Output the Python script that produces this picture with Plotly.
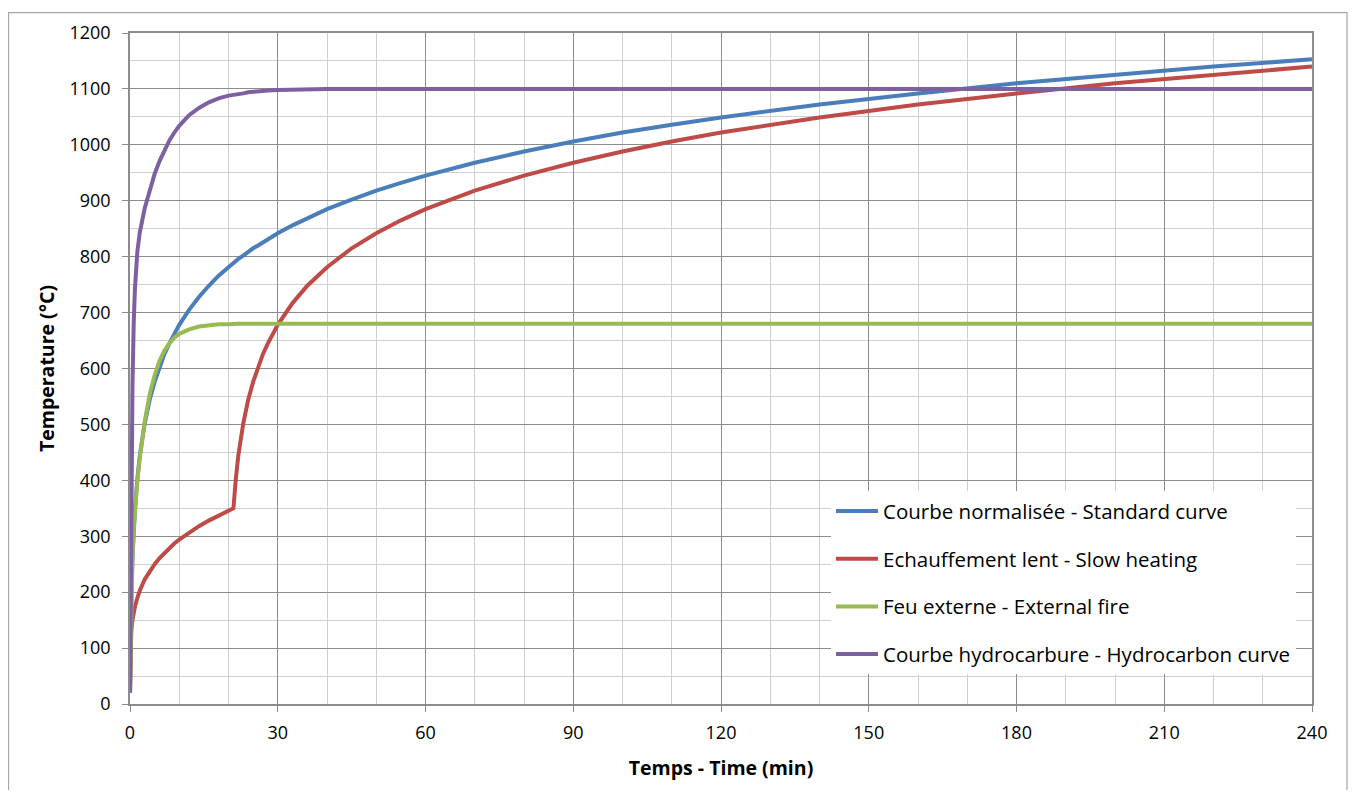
import plotly.graph_objects as go

time_min = [0, 0.1, 0.25, 0.5, 0.75, 1, 1.5, 2, 3, 4, 5, 6, 7, 8, 9, 10, 12, 14, 16, 18, 20, 21, 21.5,
            22, 23, 24, 25, 26, 27, 28, 30, 33, 36, 40, 45, 50, 55, 60, 70, 80, 90, 100, 110, 120,
            140, 160, 180, 200, 220, 240]

standard = [20, 108, 185, 261, 312, 349, 404, 445, 502, 544, 576, 603, 626, 645, 663, 678, 705, 728,
            748, 766, 781, 789, 792, 796, 802, 809, 815, 820, 826, 832, 842, 856, 869, 885, 902, 918,
            932, 945, 968, 988, 1006, 1022, 1036, 1049, 1072, 1092, 1110, 1125, 1140, 1153]

slow = [20, 107, 129, 150, 163, 174, 190, 203, 223, 238, 250, 261, 270, 279, 287, 294, 307, 318,
        328, 337, 346, 350, 404, 445, 502, 544, 576, 603, 626, 645, 678, 717, 748, 781, 815, 842,
        865, 885, 918, 945, 968, 988, 1006, 1022, 1049, 1072, 1092, 1110, 1125, 1140]

external = [20, 100, 182, 263, 311, 346, 399, 441, 506, 554, 588, 614, 632, 645, 655, 662, 670, 675,
            677, 679, 679, 680, 680, 680, 680, 680, 680, 680, 680, 680, 680, 680, 680, 680, 680, 680,
            680, 680, 680, 680, 680, 680, 680, 680, 680, 680, 680, 680, 680, 680]

hydrocarbon = [20, 187, 373, 568, 679, 743, 810, 844, 887, 920, 948, 971, 991, 1008, 1022, 1034, 1053,
               1066, 1076, 1083, 1088, 1089, 1090, 1091, 1092, 1094, 1095, 1095, 1096, 1097, 1098, 1099,
               1099, 1100, 1100, 1100, 1100, 1100, 1100, 1100, 1100, 1100, 1100, 1100, 1100, 1100,
               1100, 1100, 1100, 1100]

series_names = ["Courbe normalisée - Standard curve", "Echauffement lent - Slow heating",
                "Feu externe - External fire", "Courbe hydrocarbure - Hydrocarbon curve"]
series_values = [standard, slow, external, hydrocarbon]
series_colors = ["#4A7EBB", "#BE4B48", "#98B954", "#7D60A0"]

x_ticks = [0, 30, 60, 90, 120, 150, 180, 210, 240]
y_ticks = list(range(0, 1201, 100))

FONT = "Open Sans"

fig = go.Figure()
for i, (name, vals, col) in enumerate(zip(series_names, series_values, series_colors)):
    fig.add_trace(go.Scatter(x=time_min, y=vals, mode="lines", name=name,
                             legendgroup=f"g{i}",
                             line=dict(color=col, width=4)))

# page is offset by the 8px body margin: figure coords = page coords - 8
OFF = 8
W, H = 1340, 782
L, T = 130 - OFF, 29 - OFF
pw, ph = 1182, 675
R = W - L - pw
B = H - T - ph

def px_x(p):
    return (p - OFF - L) / pw

def px_y(p):
    return (H - B - (p - OFF)) / ph

GRID_MAJ = "#8C8C8C"
GRID_MIN = "#CFCFCF"

fig.update_layout(
    width=W, height=H,
    margin=dict(l=L, r=R, t=T, b=B),
    paper_bgcolor="white", plot_bgcolor="white",
    font=dict(family=FONT, color="#000000", size=18),
    showlegend=True,
    legend=dict(
        x=px_x(831), y=px_y(490), xanchor="left", yanchor="top",
        bgcolor="white", borderwidth=0,
        font=dict(family=FONT, size=20.5, color="#000000"),
        tracegroupgap=18, traceorder="grouped",
        itemwidth=42,
    ),
    xaxis=dict(
        range=[0, 240], tickvals=x_ticks, ticktext=[str(v) for v in x_ticks],
        showgrid=True, gridcolor=GRID_MAJ, gridwidth=1,
        minor=dict(dtick=10, tick0=0, showgrid=True, gridcolor=GRID_MIN, gridwidth=1, ticks=""),
        showline=True, linecolor=GRID_MAJ, linewidth=1.5, mirror=True,
        ticks="outside", ticklen=6, tickcolor=GRID_MAJ,
        tickfont=dict(family=FONT, size=18),
        ticklabelstandoff=6,
        zeroline=False,
        title=dict(text="<b>Temps - Time (min)</b>", font=dict(family=FONT, size=19.5), standoff=18),
    ),
    yaxis=dict(
        range=[0, 1200], tickvals=y_ticks, ticktext=[str(v) for v in y_ticks],
        showgrid=True, gridcolor=GRID_MAJ, gridwidth=1,
        minor=dict(dtick=50, tick0=0, showgrid=True, gridcolor=GRID_MIN, gridwidth=1, ticks=""),
        showline=True, linecolor=GRID_MAJ, linewidth=1.5, mirror=True,
        ticks="outside", ticklen=6, tickcolor=GRID_MAJ,
        tickfont=dict(family=FONT, size=18),
        ticklabelstandoff=8,
        zeroline=False,
        title=dict(text="<b>Temperature (°C)</b>", font=dict(family=FONT, size=19.5), standoff=10),
    ),
    shapes=[
        dict(type="rect", xref="paper", yref="paper",
             x0=px_x(8.5), x1=px_x(1347), y0=px_y(810), y1=px_y(8.5),
             line=dict(color="#A6A6A6", width=1.2), fillcolor="rgba(0,0,0,0)", layer="below"),
        dict(type="rect", xref="paper", yref="paper",
             x0=px_x(829), x1=px_x(1297), y0=px_y(680), y1=px_y(485),
             line=dict(width=0), fillcolor="white", layer="between"),
    ],
)

fig.write_html("out.html")
